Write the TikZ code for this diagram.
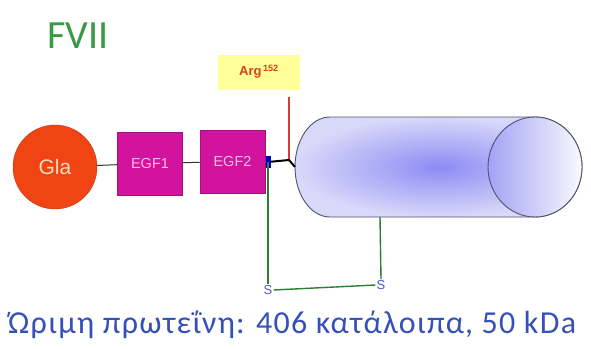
\documentclass[tikz,border=0pt]{standalone}
\usepackage{fontspec}
\setmainfont{Liberation Sans}
\newfontfamily\carl{Carlito}
\newfontfamily\carlwide{Carlito}[LetterSpace=4]
\usetikzlibrary{calc}
\definecolor{glared}{HTML}{F04414}
\definecolor{egfmag}{HTML}{D2139E}
\definecolor{egfedge}{HTML}{A01080}
\definecolor{linkgreen}{HTML}{2E7D32}
\definecolor{titlegreen}{HTML}{3A9A45}
\definecolor{sblue}{HTML}{4A5AD0}
\definecolor{captionblue}{HTML}{3550B8}
\definecolor{argyellow}{HTML}{FFFF99}
\definecolor{argred}{HTML}{D8401A}
\definecolor{cutred}{HTML}{D83A3A}
\definecolor{cylblue}{HTML}{8C8CF4}
\definecolor{cylpale}{HTML}{D8D8FA}
\definecolor{cyledge}{HTML}{505070}
\tikzset{
  glabead/.style={circle, fill=glared, draw=glared!80!black, minimum size=84pt, inner sep=0pt,
    text=orange!25, font=\fontsize{21}{21}\selectfont},
  egfbox/.style={rectangle, fill=egfmag, draw=egfedge, line width=0.6pt, minimum width=65pt,
    minimum height=63pt, inner sep=0pt, text=magenta!25, font=\fontsize{14.5}{14.5}\selectfont},
  sbond/.style={draw=linkgreen, line width=1.4pt},
  sletter/.style={text=sblue, font=\fontsize{13}{13}\selectfont, inner sep=1pt},
  backbone/.style={draw=black!80, line width=1pt},
}
\begin{document}
\begin{tikzpicture}[x=1pt, y=-1pt]
  \useasboundingbox (0,0) rectangle (591,348);
  \fill[white] (0,0) rectangle (591,348);

  % title
  \node[text=titlegreen, font=\carl\fontsize{40}{40}\selectfont, anchor=west] (title) at (44,36) {FVII};

  % catalytic domain: rounded cylinder
  \coordinate (cylleft) at (295,167);
  \coordinate (cylbottom) at (380,217);
  \shade[inner color=cylblue, outer color=cylpale]
    (330,117) -- (535,117) arc (-90:90:47 and 50) -- (330,217) arc (90:270:35 and 50) -- cycle;
  \draw[cyledge, line width=0.9pt]
    (330,117) -- (535,117) arc (-90:90:47 and 50) -- (330,217) arc (90:270:35 and 50) -- cycle;
  \shade[left color=cylblue!70!cylpale, right color=white!85!cylpale]
    (535,167) ellipse (47 and 50);
  \draw[cyledge, line width=0.9pt] (535,167) ellipse (47 and 50);

  % light chain domains
  \node[glabead] (gla) at (55,167) {Gla};
  \node[egfbox] (egf1) at (150,163.5) {EGF1};
  \node[egfbox] (egf2) at (232.5,161.5) {EGF2};
  \draw[backbone] (gla) -- (egf1);
  \draw[backbone] (egf1) -- (egf2);

  % activation site
  \node[fill=argyellow, minimum width=82pt, minimum height=35pt, inner sep=0pt,
        text=argred, font=\bfseries\fontsize{13}{13}\selectfont] (arg) at (259,72)
        {Arg\textsuperscript{\,152}};
  \coordinate (cuttop) at (289,97);
  \coordinate (cutsite) at (289,160);
  \coordinate (egf2link) at (268,162);
  \draw[cutred, line width=2pt] (cuttop) -- (cutsite);
  \draw[black, line width=2pt] (egf2link) -- (cutsite) -- (cylleft);
  \fill[blue!75!black] (266,156) rectangle (271,168);

  % disulfide bridge
  \node[sletter] (s1) at (268,290) {S};
  \node[sletter] (s2) at (381,285) {S};
  \draw[sbond] (egf2link) -- (s1.north);
  \draw[sbond] (s1.east) -- (s2.west);
  \draw[sbond] (s2.north) -- (cylbottom);

  % caption
  \node[text=captionblue, font=\carlwide\fontsize{32}{32}\selectfont, anchor=base west, inner sep=0pt] (caption) at (8,333)
    {Ώριμη πρωτεΐνη: 406 κατάλοιπα, 50 kDa};
\end{tikzpicture}
\end{document}
